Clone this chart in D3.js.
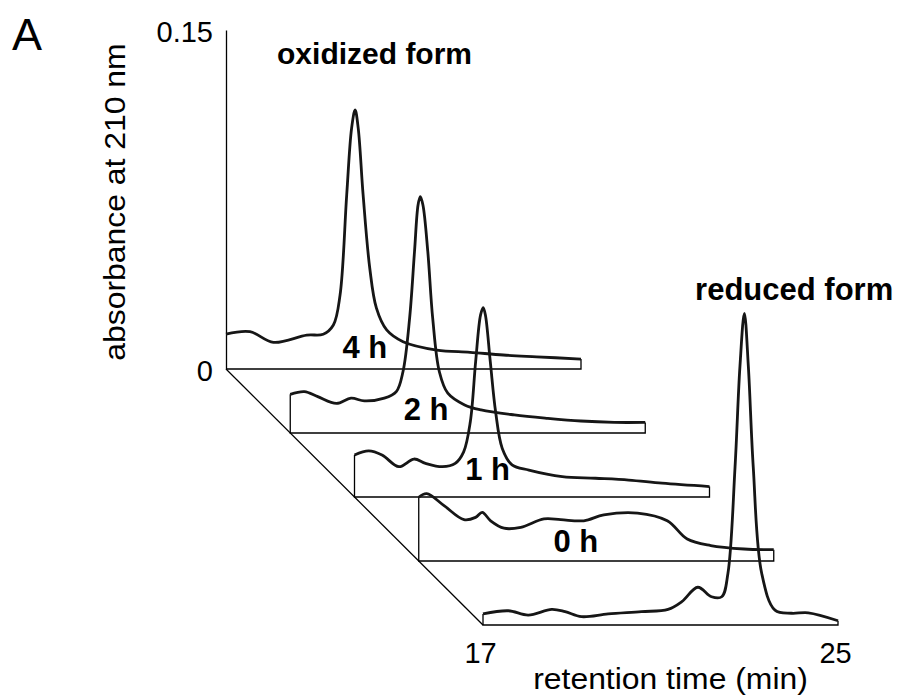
<!DOCTYPE html>
<html>
<head>
<meta charset="utf-8">
<script src="https://cdn.jsdelivr.net/npm/d3@7"></script>
<style>
  body { margin: 0; background: #fff; }
  svg text { font-family: "Liberation Sans", Arial, Helvetica, sans-serif; fill: #000; }
</style>
</head>
<body>
<svg id="chart" width="904" height="697"></svg>
<script>
// panel labels, back to front
var panelNames = ["4 h", "2 h", "1 h", "0 h", ""];

// retention time (min) / absorbance
var time4h = [17.0, 17.54, 18.07, 18.82, 19.19, 19.42, 19.57, 19.72, 19.83, 19.91, 19.98, 20.09, 20.24, 20.39, 20.62, 20.99, 21.75, 22.5, 23.25, 24.0, 25.0];
var abs4h  = [0.0154, 0.0165, 0.0118, 0.0150, 0.0154, 0.0195, 0.0327, 0.0770, 0.1065, 0.1146, 0.1065, 0.0770, 0.0446, 0.0269, 0.0173, 0.0121, 0.0084, 0.0074, 0.0062, 0.0054, 0.0044];

var time2h = [17.0, 17.32, 17.62, 18.04, 18.37, 18.67, 19.12, 19.39, 19.54, 19.69, 19.8, 19.88, 19.93, 19.99, 20.1, 20.21, 20.36, 20.55, 20.93, 21.3, 22.05, 22.8, 23.55, 24.3, 25.0];
var abs2h  = [0.0171, 0.0183, 0.0161, 0.0131, 0.0154, 0.0142, 0.0154, 0.0183, 0.0271, 0.0508, 0.0802, 0.1009, 0.1046, 0.1009, 0.0802, 0.0508, 0.0271, 0.0176, 0.0124, 0.0102, 0.0080, 0.0065, 0.0053, 0.0047, 0.0047];

var time1h = [17.0, 17.32, 17.62, 18.0, 18.34, 18.6, 18.98, 19.27, 19.46, 19.61, 19.73, 19.84, 19.9, 19.95, 20.06, 20.18, 20.33, 20.55, 20.93, 21.68, 22.43, 23.18, 23.93, 25.0];
var abs1h  = [0.0186, 0.0204, 0.0186, 0.0134, 0.0168, 0.0149, 0.0134, 0.0149, 0.0200, 0.0333, 0.0599, 0.0805, 0.0838, 0.0805, 0.0599, 0.0377, 0.0215, 0.0142, 0.0119, 0.0090, 0.0083, 0.0075, 0.0061, 0.0046];

var time0h = [17.0, 17.18, 17.57, 18.02, 18.28, 18.43, 18.62, 18.92, 19.3, 19.82, 20.2, 20.72, 21.17, 21.93, 22.6, 23.05, 23.58, 24.33, 25.0];
var abs0h  = [0.0282, 0.0298, 0.0245, 0.0183, 0.0193, 0.0215, 0.0178, 0.0145, 0.0149, 0.0186, 0.0183, 0.0178, 0.0204, 0.0212, 0.0178, 0.0097, 0.0068, 0.0053, 0.0050];

var timeRed = [17.0, 17.57, 18.02, 18.55, 18.85, 19.22, 19.82, 20.57, 21.17, 21.48, 21.84, 22.15, 22.38, 22.52, 22.68, 22.79, 22.89, 22.98, 23.09, 23.28, 23.58, 23.95, 24.33, 25.0];
var absRed  = [0.0049, 0.0063, 0.0044, 0.0069, 0.0059, 0.0037, 0.0049, 0.0059, 0.0069, 0.0103, 0.0167, 0.0125, 0.0125, 0.0229, 0.0700, 0.1143, 0.1379, 0.1143, 0.0700, 0.0229, 0.0066, 0.0052, 0.0054, 0.0019];

var xTicks = [17, 25];
var yTicks = [0, 0.15];

var traces = [
  d3.zip(time4h, abs4h),
  d3.zip(time2h, abs2h),
  d3.zip(time1h, abs1h),
  d3.zip(time0h, abs0h),
  d3.zip(timeRed, absRed)
];

var svg = d3.select("#chart");

// back panel scales; every other panel is shifted down-right
var x = d3.scaleLinear().domain([17, 25]).range([226, 581]);
var y = d3.scaleLinear().domain([0, 0.15]).range([369, 30]);
var stepX = 64.25, stepY = 64;
var n = traces.length;

var line = d3.line()
  .x(function(d) { return x(d[0]); })
  .y(function(d) { return y(d[1]); })
  .curve(d3.curveCatmullRom.alpha(0.5));

// depth diagonal
svg.append("line")
  .attr("x1", x(17)).attr("y1", y(0))
  .attr("x2", x(17) + (n - 1) * stepX).attr("y2", y(0) + (n - 1) * stepY)
  .attr("stroke", "#000").attr("stroke-width", 1.3);

// y axis (domain line is the vertical axis of the back panel)
var yAxis = svg.append("g")
  .attr("transform", "translate(" + x(17) + ",0)")
  .call(d3.axisLeft(y).tickValues(yTicks).tickSize(0).tickSizeOuter(0).tickPadding(13)
    .tickFormat(function(d) { return d === 0 ? "0" : "0.15"; }));
yAxis.select(".domain").attr("stroke", "#000").attr("stroke-width", 1.3);
yAxis.selectAll("text").attr("font-size", 29).attr("font-family", null).attr("dy", "0.4em");

var panels = svg.selectAll("g.panel")
  .data(traces)
  .enter().append("g")
  .attr("class", "panel")
  .attr("transform", function(d, i) { return "translate(" + (i * stepX) + "," + (i * stepY) + ")"; });

// frame: baseline plus the two end verticals
panels.append("path")
  .attr("fill", "none")
  .attr("stroke", "#000")
  .attr("stroke-width", 1.3)
  .attr("d", function(d, i) {
    var first = d[0], last = d[d.length - 1];
    var p = "M" + x(last[0]) + "," + y(last[1]) + "L" + x(last[0]) + "," + y(0) + "L" + x(first[0]) + "," + y(0);
    if (i > 0) p += "L" + x(first[0]) + "," + y(first[1]);
    return p;
  });

panels.append("path")
  .attr("fill", "none")
  .attr("stroke", "#161616")
  .attr("stroke-width", 2.8)
  .attr("stroke-linejoin", "round")
  .attr("d", line);

// time labels inside each panel (time, absorbance of baseline)
var labelAt = [[20.13, 0.0047], [20.06, 0.0058], [20.0, 0.0075], [20.54, 0.004], [0, 0]];
panels.append("text")
  .attr("x", function(d, i) { return x(labelAt[i][0]); })
  .attr("y", function(d, i) { return y(labelAt[i][1]); })
  .attr("text-anchor", "middle")
  .attr("font-weight", "bold")
  .attr("font-size", 31)
  .text(function(d, i) { return panelNames[i]; });

// x axis on the front panel
var front = n - 1;
var xFront = x.copy().range(x.range().map(function(v) { return v + front * stepX; }));
var xAxis = svg.append("g")
  .attr("transform", "translate(-3," + (y(0) + front * stepY) + ")")
  .call(d3.axisBottom(xFront).tickValues(xTicks).tickSize(0).tickPadding(17));
xAxis.select(".domain").remove();
xAxis.selectAll("text").attr("font-size", 29).attr("font-family", null);

// titles
svg.append("text")
  .attr("transform", "translate(670.5,689) scale(1.1,1)")
  .attr("text-anchor", "middle")
  .attr("font-size", 29)
  .text("retention time (min)");

svg.append("text")
  .attr("transform", "translate(125,202) rotate(-90) scale(1.1,1)")
  .attr("text-anchor", "middle")
  .attr("font-size", 29)
  .text("absorbance at 210 nm");

svg.append("text")
  .attr("x", 12).attr("y", 50)
  .attr("font-size", 45)
  .text("A");

svg.append("text")
  .attr("x", x(18.15)).attr("y", y(0.135))
  .attr("font-weight", "bold")
  .attr("font-size", 30)
  .text("oxidized form");

svg.append("text")
  .attr("x", x(21.78) + front * stepX).attr("y", y(0.1438) + front * stepY)
  .attr("font-weight", "bold")
  .attr("font-size", 31)
  .text("reduced form");
</script>
</body>
</html>
